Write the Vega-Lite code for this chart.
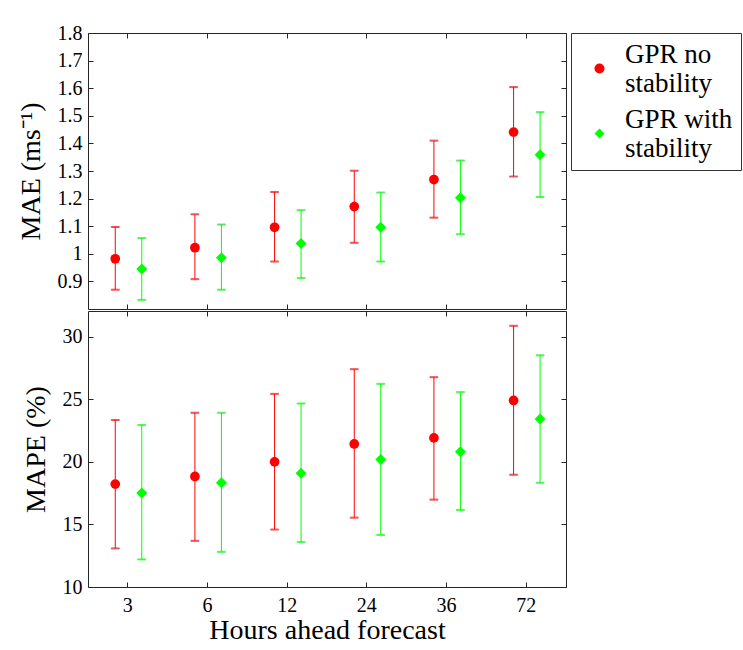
{
  "$schema": "https://vega.github.io/schema/vega-lite/v6.json",
  "padding": {"left": 17, "top": 23, "right": 5, "bottom": 5},
  "background": "white",
  "spacing": 0,
  "config": {
    "font": "Liberation Serif",
    "view": {"stroke": null},
    "axis": {
      "labelFont": "Liberation Serif",
      "titleFont": "Liberation Serif",
      "labelFontSize": 20,
      "titleFontSize": 28,
      "titleFontWeight": "normal",
      "labelColor": "black",
      "titleColor": "black",
      "domainColor": "#262626",
      "tickColor": "#262626",
      "grid": false,
      "tickSize": -5
    },
    "legend": {
      "orient": "right",
      "offset": 4,
      "labelFont": "Liberation Serif",
      "labelFontSize": 27,
      "labelColor": "black",
      "labelLimit": 400,
      "strokeColor": "#333333",
      "padding": 8,
      "symbolSize": 100,
      "symbolStrokeWidth": 0,
      "rowPadding": 8,
      "labelOffset": 12,
      "symbolOffset": 7,
      "labelBaseline": "bottom",
      "titleFontSize": 8,
      "titlePadding": 6
    }
  },
  "datasets": {
    "d": [
      {"metric": "MAE", "hours": "3", "series": "GPR no stability", "mean": 0.982, "lo": 0.870, "hi": 1.097},
      {"metric": "MAE", "hours": "3", "series": "GPR with stability", "mean": 0.945, "lo": 0.833, "hi": 1.057},
      {"metric": "MAE", "hours": "6", "series": "GPR no stability", "mean": 1.022, "lo": 0.908, "hi": 1.143},
      {"metric": "MAE", "hours": "6", "series": "GPR with stability", "mean": 0.986, "lo": 0.870, "hi": 1.106},
      {"metric": "MAE", "hours": "12", "series": "GPR no stability", "mean": 1.096, "lo": 0.972, "hi": 1.224},
      {"metric": "MAE", "hours": "12", "series": "GPR with stability", "mean": 1.037, "lo": 0.912, "hi": 1.158},
      {"metric": "MAE", "hours": "24", "series": "GPR no stability", "mean": 1.171, "lo": 1.040, "hi": 1.301},
      {"metric": "MAE", "hours": "24", "series": "GPR with stability", "mean": 1.096, "lo": 0.972, "hi": 1.222},
      {"metric": "MAE", "hours": "36", "series": "GPR no stability", "mean": 1.269, "lo": 1.131, "hi": 1.410},
      {"metric": "MAE", "hours": "36", "series": "GPR with stability", "mean": 1.203, "lo": 1.071, "hi": 1.338},
      {"metric": "MAE", "hours": "72", "series": "GPR no stability", "mean": 1.441, "lo": 1.280, "hi": 1.604},
      {"metric": "MAE", "hours": "72", "series": "GPR with stability", "mean": 1.359, "lo": 1.206, "hi": 1.513},
      {"metric": "MAPE", "hours": "3", "series": "GPR no stability", "mean": 18.22, "lo": 13.08, "hi": 23.34},
      {"metric": "MAPE", "hours": "3", "series": "GPR with stability", "mean": 17.50, "lo": 12.20, "hi": 22.94},
      {"metric": "MAPE", "hours": "6", "series": "GPR no stability", "mean": 18.83, "lo": 13.69, "hi": 23.92},
      {"metric": "MAPE", "hours": "6", "series": "GPR with stability", "mean": 18.33, "lo": 12.81, "hi": 23.92},
      {"metric": "MAPE", "hours": "12", "series": "GPR no stability", "mean": 20.00, "lo": 14.59, "hi": 25.43},
      {"metric": "MAPE", "hours": "12", "series": "GPR with stability", "mean": 19.09, "lo": 13.58, "hi": 24.66},
      {"metric": "MAPE", "hours": "24", "series": "GPR no stability", "mean": 21.43, "lo": 15.54, "hi": 27.40},
      {"metric": "MAPE", "hours": "24", "series": "GPR with stability", "mean": 20.18, "lo": 14.16, "hi": 26.23},
      {"metric": "MAPE", "hours": "36", "series": "GPR no stability", "mean": 21.91, "lo": 16.98, "hi": 26.76},
      {"metric": "MAPE", "hours": "36", "series": "GPR with stability", "mean": 20.80, "lo": 16.15, "hi": 25.57},
      {"metric": "MAPE", "hours": "72", "series": "GPR no stability", "mean": 24.90, "lo": 18.97, "hi": 30.87},
      {"metric": "MAPE", "hours": "72", "series": "GPR with stability", "mean": 23.42, "lo": 18.33, "hi": 28.51}
    ]
  },
  "vconcat": [
    {
      "width": 478,
      "height": 276,
      "data": {"name": "d"},
      "transform": [{"filter": "datum.metric == 'MAE'"}],
      "resolve": {"axis": {"x": "independent", "y": "independent"}},
      "layer": [
        {
          "mark": {"type": "rule", "strokeWidth": 1},
          "encoding": {
            "x": {"field": "hours", "type": "ordinal", "sort": ["3", "6", "12", "24", "36", "72"], "scale": {"type": "band", "paddingInner": 0, "paddingOuter": 0}, "axis": {"orient": "bottom", "labels": false, "title": null}},
            "xOffset": {"field": "series", "type": "nominal", "scale": {"type": "band", "domain": ["GPR no stability", "GPR with stability"], "range": [14, 67], "paddingInner": 0, "paddingOuter": 0}},
            "y": {"field": "lo", "type": "quantitative", "scale": {"domain": [0.8, 1.8], "nice": false, "zero": false}, "axis": {"orient": "left", "values": [0.9, 1.0, 1.1, 1.2, 1.3, 1.4, 1.5, 1.6, 1.7, 1.8], "format": ".1~f", "labelPadding": 11, "titlePadding": 12, "title": "MAE (ms⁻¹)"}},
            "y2": {"field": "hi"},
            "stroke": {"field": "series", "type": "nominal", "scale": {"domain": ["GPR with stability", "GPR no stability"], "range": ["#00ff00", "#ff0000"]}, "legend": null}
          }
        },
        {
          "mark": {"type": "tick", "size": 8, "thickness": 1},
          "encoding": {
            "x": {"field": "hours", "type": "ordinal", "sort": ["3", "6", "12", "24", "36", "72"], "axis": {"orient": "top", "labels": false, "title": null}},
            "xOffset": {"field": "series", "type": "nominal"},
            "y": {"field": "lo", "type": "quantitative", "axis": {"orient": "right", "values": [0.9, 1.0, 1.1, 1.2, 1.3, 1.4, 1.5, 1.6, 1.7, 1.8], "labels": false, "title": null}},
            "stroke": {"field": "series", "type": "nominal", "legend": null}
          }
        },
        {
          "mark": {"type": "tick", "size": 8, "thickness": 1},
          "encoding": {
            "x": {"field": "hours", "type": "ordinal", "sort": ["3", "6", "12", "24", "36", "72"], "axis": null},
            "xOffset": {"field": "series", "type": "nominal"},
            "y": {"field": "hi", "type": "quantitative", "axis": null},
            "stroke": {"field": "series", "type": "nominal", "legend": null}
          }
        },
        {
          "mark": {"type": "point", "filled": true, "opacity": 1},
          "encoding": {
            "x": {"field": "hours", "type": "ordinal", "sort": ["3", "6", "12", "24", "36", "72"], "axis": null},
            "xOffset": {"field": "series", "type": "nominal"},
            "y": {"field": "mean", "type": "quantitative", "axis": null},
            "color": {"field": "series", "type": "nominal", "scale": {"domain": ["GPR no stability", "GPR with stability"], "range": ["#ff0000", "#00ff00"]}, "legend": {"title": " ", "titleFontSize": 8, "titlePadding": 6, "labelFont": "Liberation Serif", "labelFontSize": 27, "labelBaseline": "bottom", "labelExpr": "datum.label == 'GPR no stability' ? ['GPR no', 'stability'] : ['GPR with', 'stability']"}},
            "shape": {"field": "series", "type": "nominal", "scale": {"domain": ["GPR no stability", "GPR with stability"], "range": ["circle", "diamond"]}, "legend": {"title": " ", "titleFontSize": 8, "titlePadding": 6, "labelFont": "Liberation Serif", "labelFontSize": 27, "labelBaseline": "bottom", "labelExpr": "datum.label == 'GPR no stability' ? ['GPR no', 'stability'] : ['GPR with', 'stability']"}},
            "size": {"condition": {"test": "datum.series == 'GPR with stability'", "value": 121}, "value": 95}
          }
        }
      ]
    },
    {
      "width": 478,
      "height": 276,
      "data": {"name": "d"},
      "transform": [{"filter": "datum.metric == 'MAPE'"}],
      "resolve": {"axis": {"x": "independent", "y": "independent"}},
      "layer": [
        {
          "mark": {"type": "rule", "strokeWidth": 1},
          "encoding": {
            "x": {"field": "hours", "type": "ordinal", "sort": ["3", "6", "12", "24", "36", "72"], "scale": {"type": "band", "paddingInner": 0, "paddingOuter": 0}, "axis": {"orient": "bottom", "labelAngle": 0, "labelPadding": 13, "titlePadding": 1, "title": "Hours ahead forecast"}},
            "xOffset": {"field": "series", "type": "nominal", "scale": {"type": "band", "domain": ["GPR no stability", "GPR with stability"], "range": [14, 67], "paddingInner": 0, "paddingOuter": 0}},
            "y": {"field": "lo", "type": "quantitative", "scale": {"domain": [10, 32.05], "nice": false, "zero": false}, "axis": {"orient": "left", "values": [10, 15, 20, 25, 30], "labelPadding": 11, "titlePadding": 12, "title": "MAPE (%)"}},
            "y2": {"field": "hi"},
            "stroke": {"field": "series", "type": "nominal", "legend": null}
          }
        },
        {
          "mark": {"type": "tick", "size": 8, "thickness": 1},
          "encoding": {
            "x": {"field": "hours", "type": "ordinal", "sort": ["3", "6", "12", "24", "36", "72"], "axis": {"orient": "top", "labels": false, "title": null}},
            "xOffset": {"field": "series", "type": "nominal"},
            "y": {"field": "lo", "type": "quantitative", "axis": {"orient": "right", "values": [10, 15, 20, 25, 30], "labels": false, "title": null}},
            "stroke": {"field": "series", "type": "nominal", "legend": null}
          }
        },
        {
          "mark": {"type": "tick", "size": 8, "thickness": 1},
          "encoding": {
            "x": {"field": "hours", "type": "ordinal", "sort": ["3", "6", "12", "24", "36", "72"], "axis": null},
            "xOffset": {"field": "series", "type": "nominal"},
            "y": {"field": "hi", "type": "quantitative", "axis": null},
            "stroke": {"field": "series", "type": "nominal", "legend": null}
          }
        },
        {
          "mark": {"type": "point", "filled": true, "opacity": 1},
          "encoding": {
            "x": {"field": "hours", "type": "ordinal", "sort": ["3", "6", "12", "24", "36", "72"], "axis": null},
            "xOffset": {"field": "series", "type": "nominal"},
            "y": {"field": "mean", "type": "quantitative", "axis": null},
            "color": {"field": "series", "type": "nominal"},
            "shape": {"field": "series", "type": "nominal"},
            "size": {"condition": {"test": "datum.series == 'GPR with stability'", "value": 121}, "value": 95}
          }
        }
      ]
    }
  ]
}
